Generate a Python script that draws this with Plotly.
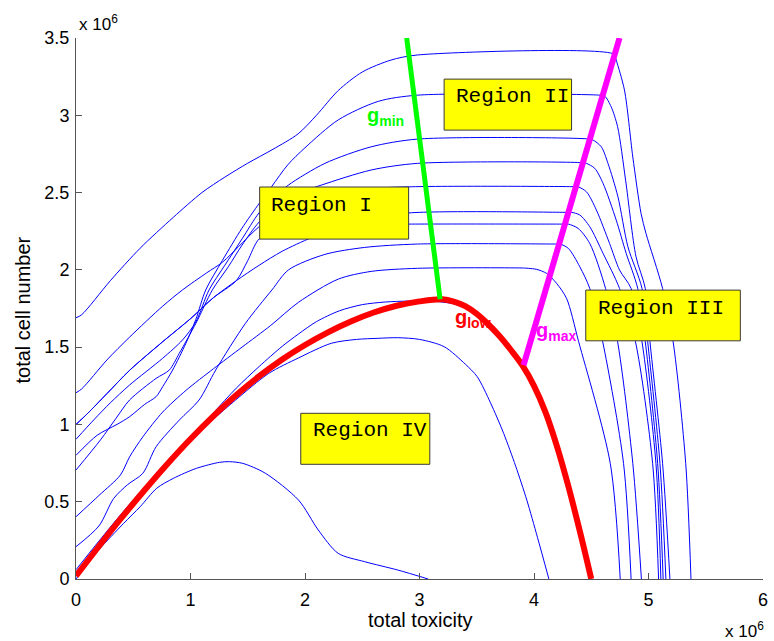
import plotly.graph_objects as go

# ---------------- data (units of 10^6) ----------------
A_x = [0, 0.05, 0.3, 0.56, 0.85, 1.1, 1.3, 1.5, 1.72, 1.94, 2.1, 2.29, 2.5, 2.75, 2.98, 4.70, 4.718, 4.79, 4.863, 4.935, 4.978, 5.123, 5.215, 5.325, 5.371]
A_y = [1.69, 1.71, 1.93, 2.14, 2.34, 2.50, 2.6, 2.69, 2.78, 2.88, 3.0, 3.16, 3.28, 3.357, 3.39, 3.395, 3.357, 3.163, 2.73, 2.365, 2.236, 1.88, 1.535, 0.748, 0]

B_x = [0, 0.185, 0.358, 0.468, 0.6, 0.70, 0.757, 0.844, 0.96, 1.047, 1.133, 1.278, 1.45, 1.6, 1.71, 1.85, 2.0, 2.29, 2.64, 2.98, 4.58, 4.617, 4.674, 4.73, 4.80, 4.891, 4.972, 5.013, 5.123, 5.187]
B_y = [0.80, 0.93, 1.0, 1.05, 1.13, 1.18, 1.244, 1.352, 1.525, 1.68, 1.87, 2.06, 2.27, 2.43, 2.54, 2.68, 2.79, 2.97, 3.09, 3.13, 3.13, 3.125, 3.055, 2.926, 2.58, 2.085, 1.88, 1.535, 0.748, 0]

C_x = [0, 0.156, 0.3, 0.468, 0.757, 0.93, 1.047, 1.162, 1.3, 1.45, 1.6, 1.75, 1.856, 2.174, 2.578, 2.983, 4.49, 4.516, 4.588, 4.646, 4.733, 4.82, 4.943, 4.993, 5.10, 5.152]
C_y = [0.904, 1.03, 1.14, 1.255, 1.428, 1.546, 1.664, 1.87, 2.03, 2.2, 2.37, 2.48, 2.549, 2.689, 2.796, 2.846, 2.846, 2.84, 2.796, 2.689, 2.473, 2.15, 1.88, 1.535, 0.748, 0]

D_x = [0, 0.214, 0.35, 0.468, 0.70, 0.815, 0.902, 1.047, 1.191, 1.33, 1.45, 1.6, 1.8, 2.0, 2.145, 2.578, 2.983, 4.43, 4.458, 4.53, 4.603, 4.718, 4.805, 4.906, 4.972, 5.08, 5.128]
D_y = [0.705, 0.90, 1.04, 1.158, 1.298, 1.352, 1.46, 1.654, 1.87, 2.02, 2.16, 2.31, 2.44, 2.51, 2.549, 2.646, 2.689, 2.693, 2.689, 2.657, 2.56, 2.322, 2.107, 1.88, 1.535, 0.748, 0]

E_x = [0, 0.05, 0.27, 0.468, 0.757, 0.93, 1.14, 1.28, 1.42, 1.6, 1.9, 2.3, 2.9, 4.36, 4.386, 4.458, 4.545, 4.66, 4.747, 4.848, 4.943, 5.065, 5.108]
E_y = [1.205, 1.23, 1.417, 1.565, 1.765, 1.87, 1.98, 2.05, 2.15, 2.28, 2.43, 2.51, 2.537, 2.538, 2.537, 2.505, 2.387, 2.171, 1.999, 1.88, 1.535, 0.748, 0]

F_x = [0, 0.1, 0.271, 0.468, 0.757, 1.003, 1.2, 1.4, 1.6, 1.8, 2.06, 2.4, 2.9, 4.30, 4.328, 4.40, 4.487, 4.603, 4.747, 4.886, 5.036, 5.088]
F_y = [1.0, 1.07, 1.2, 1.35, 1.535, 1.686, 1.82, 1.93, 2.03, 2.12, 2.21, 2.31, 2.368, 2.372, 2.372, 2.355, 2.279, 2.107, 1.88, 1.535, 0.748, 0]

G_x = [0, 0.1, 0.271, 0.468, 0.757, 1.003, 1.2, 1.4, 1.5, 1.6, 1.8, 2.2, 2.9, 4.27, 4.30, 4.386, 4.487, 4.625, 4.73, 4.863, 4.938]
G_y = [1.0, 1.07, 1.2, 1.35, 1.535, 1.686, 1.82, 1.93, 2.06, 2.2, 2.26, 2.29, 2.296, 2.296, 2.296, 2.268, 2.171, 1.88, 1.535, 0.748, 0]

H_x = [0, 0.2, 0.33, 0.45, 0.584, 0.70, 0.902, 1.075, 1.22, 1.48, 1.711, 1.856, 2.174, 2.52, 2.983, 4.20, 4.227, 4.30, 4.40, 4.487, 4.60, 4.782, 4.848]
H_y = [0.209, 0.343, 0.522, 0.61, 0.684, 0.856, 1.028, 1.158, 1.352, 1.654, 1.87, 2.0, 2.1, 2.145, 2.167, 2.167, 2.167, 2.139, 2.02, 1.88, 1.535, 0.748, 0]

I_x = [0, 0.2, 0.388, 0.468, 0.584, 0.757, 0.96, 1.2, 1.45, 1.7, 1.943, 2.29, 2.578, 2.983, 3.9, 3.95, 4.024, 4.11, 4.197, 4.284, 4.39, 4.666, 4.753]
I_y = [0.403, 0.54, 0.673, 0.79, 0.92, 1.08, 1.22, 1.36, 1.5, 1.64, 1.79, 1.94, 1.99, 2.01, 2.012, 2.01, 2.003, 1.977, 1.913, 1.816, 1.535, 0.748, 0]

J_x = [0, 0.2, 0.4, 0.6, 0.8, 1.0, 1.2, 1.4, 1.6, 1.8, 1.943, 2.1, 2.3, 2.5, 2.7, 2.9, 3.1, 3.3, 3.4, 3.5, 3.6, 3.7, 3.8, 3.9, 4.0, 4.1, 4.2, 4.3, 4.4, 4.49]
J_y = [0.06, 0.245, 0.425, 0.595, 0.755, 0.915, 1.075, 1.235, 1.375, 1.505, 1.585, 1.665, 1.735, 1.775, 1.792, 1.798, 1.798, 1.78, 1.752, 1.703, 1.637, 1.56, 1.47, 1.37, 1.24, 1.07, 0.85, 0.59, 0.3, 0]

K_x = [0, 0.2, 0.4, 0.6, 0.8, 1.0, 1.19, 1.394, 1.683, 1.943, 2.23, 2.45, 2.637, 2.81, 3.0, 3.215, 3.4, 3.504, 3.62, 3.735, 3.84, 3.937, 4.03, 4.13]
K_y = [0.0, 0.19, 0.38, 0.56, 0.74, 0.91, 1.028, 1.158, 1.33, 1.43, 1.525, 1.55, 1.557, 1.561, 1.55, 1.503, 1.39, 1.309, 1.14, 0.942, 0.73, 0.511, 0.27, 0]

L_x = [0, 0.2, 0.416, 0.561, 0.705, 0.85, 1.052, 1.255, 1.342, 1.457, 1.654, 1.943, 2.116, 2.29, 2.521, 2.81, 3.076]
L_y = [0.017, 0.19, 0.36, 0.468, 0.587, 0.651, 0.716, 0.755, 0.759, 0.748, 0.684, 0.511, 0.317, 0.166, 0.112, 0.058, 0]

glow_x = [0, 0.2, 0.4, 0.6, 0.8, 1.0, 1.2, 1.4, 1.6, 1.8, 2.0, 2.2, 2.4, 2.6, 2.8, 3.0, 3.2,
          3.3, 3.4, 3.5, 3.6, 3.7, 3.8, 3.9, 4.0, 4.1, 4.2, 4.3, 4.4, 4.5]
glow_y = [0.02, 0.212, 0.398, 0.576, 0.746, 0.906, 1.054, 1.19, 1.312, 1.42, 1.514, 1.596, 1.666, 1.724, 1.768, 1.796, 1.81,
          1.795, 1.765, 1.715, 1.648, 1.57, 1.48, 1.38, 1.25, 1.08, 0.86, 0.6, 0.31, 0]

gmin_x = [2.888, 3.18]
gmin_y = [3.50, 1.81]
gmax_x = [4.747, 3.909]
gmax_y = [3.50, 1.384]

x_ticks = [0, 1, 2, 3, 4, 5, 6]
y_ticks = [0, 0.5, 1, 1.5, 2, 2.5, 3, 3.5]
y_tick_text = ["0", "0.5", "1", "1.5", "2", "2.5", "3", "3.5"]

# region boxes: label, x0, x1, y0, y1, text x, text y
regions = [
    ("Region I", 1.604, 2.905, 2.199, 2.536, 1.682, 2.419),
    ("Region II", 3.215, 4.328, 2.904, 3.234, 3.302, 3.12),
    ("Region III", 4.452, 5.802, 1.541, 1.869, 4.539, 1.751),
    ("Region IV", 1.963, 3.09, 0.742, 1.072, 2.049, 0.959),
]

g_labels = [
    ("g<sub>min</sub>", 2.70, 2.99, "#00ff00"),
    ("g<sub>low</sub>", 3.47, 1.685, "#ff0000"),
    ("g<sub>max</sub>", 4.19, 1.60, "#ff00ff"),
]

# ---------------- figure ----------------
fig = go.Figure()
blue_curves = [(A_x, A_y), (B_x, B_y), (C_x, C_y), (D_x, D_y), (E_x, E_y), (F_x, F_y),
               (G_x, G_y), (H_x, H_y), (I_x, I_y), (J_x, J_y), (K_x, K_y), (L_x, L_y)]
for cx, cy in blue_curves:
    fig.add_trace(go.Scatter(x=cx, y=cy, mode="lines",
                             line=dict(color="#0000ff", width=1, shape="spline", smoothing=0.8),
                             hoverinfo="skip", showlegend=False))

fig.add_trace(go.Scatter(x=glow_x, y=glow_y, mode="lines",
                         line=dict(color="#ff0000", width=6, shape="spline", smoothing=1.0),
                         hoverinfo="skip", showlegend=False))
fig.add_trace(go.Scatter(x=gmin_x, y=gmin_y, mode="lines",
                         line=dict(color="#00ff00", width=5),
                         hoverinfo="skip", showlegend=False))
fig.add_trace(go.Scatter(x=gmax_x, y=gmax_y, mode="lines",
                         line=dict(color="#ff00ff", width=6),
                         hoverinfo="skip", showlegend=False))

mono = "Courier New, Liberation Mono, monospace"
sans = "Arial, Liberation Sans, Helvetica, sans-serif"

shapes = []
annotations = []
for label, x0, x1, y0, y1, tx, ty in regions:
    shapes.append(dict(type="rect", xref="x", yref="y", x0=x0, x1=x1, y0=y0, y1=y1,
                       fillcolor="#ffff00", line=dict(color="#3a3a3a", width=1), layer="above"))
    annotations.append(dict(x=tx, y=ty, xref="x", yref="y", text=label, showarrow=False,
                            xanchor="left", yanchor="middle",
                            font=dict(family=mono, size=21, color="#000000")))

for txt, gx, gy, col in g_labels:
    annotations.append(dict(x=gx, y=gy, xref="x", yref="y", text="<b>" + txt + "</b>",
                            showarrow=False, xanchor="center", yanchor="middle",
                            font=dict(family=sans, size=20, color=col)))

annotations += [
    dict(x=0.0014, y=1.028, xref="paper", yref="paper", text="x 10<sup>6</sup>", showarrow=False,
         xanchor="left", yanchor="middle", font=dict(family=sans, size=17, color="#000")),
    dict(x=1.004, y=-0.094, xref="paper", yref="paper", text="x 10<sup>6</sup>", showarrow=False,
         xanchor="right", yanchor="middle", font=dict(family=sans, size=17, color="#000")),
    dict(x=0.5, y=-0.076, xref="paper", yref="paper", text="total toxicity", showarrow=False,
         xanchor="center", yanchor="middle", font=dict(family=sans, size=20, color="#000")),
    dict(x=-0.0766, y=0.497, xref="paper", yref="paper", text="total cell number", showarrow=False,
         textangle=-90, xanchor="center", yanchor="middle", font=dict(family=sans, size=20, color="#000")),
]

fig.update_layout(
    width=774, height=641,
    margin=dict(l=76, r=6, t=38, b=62),
    paper_bgcolor="#ffffff", plot_bgcolor="#ffffff",
    shapes=shapes, annotations=annotations,
    showlegend=False,
)
fig.update_xaxes(range=[0, 6], tickvals=x_ticks, ticktext=[str(v) for v in x_ticks],
                 showline=True, linecolor="#555555", linewidth=1, mirror=False,
                 ticks="inside", ticklen=6, tickcolor="#555555", showgrid=False, zeroline=False,
                 ticklabelstandoff=4,
                 tickfont=dict(family=sans, size=18, color="#000"))
fig.update_yaxes(range=[0, 3.5], tickvals=y_ticks, ticktext=y_tick_text,
                 showline=True, linecolor="#555555", linewidth=1, mirror=False,
                 ticks="inside", ticklen=6, tickcolor="#555555", showgrid=False, zeroline=False,
                 ticklabelstandoff=2,
                 tickfont=dict(family=sans, size=18, color="#000"))

fig.write_html("out.html")
